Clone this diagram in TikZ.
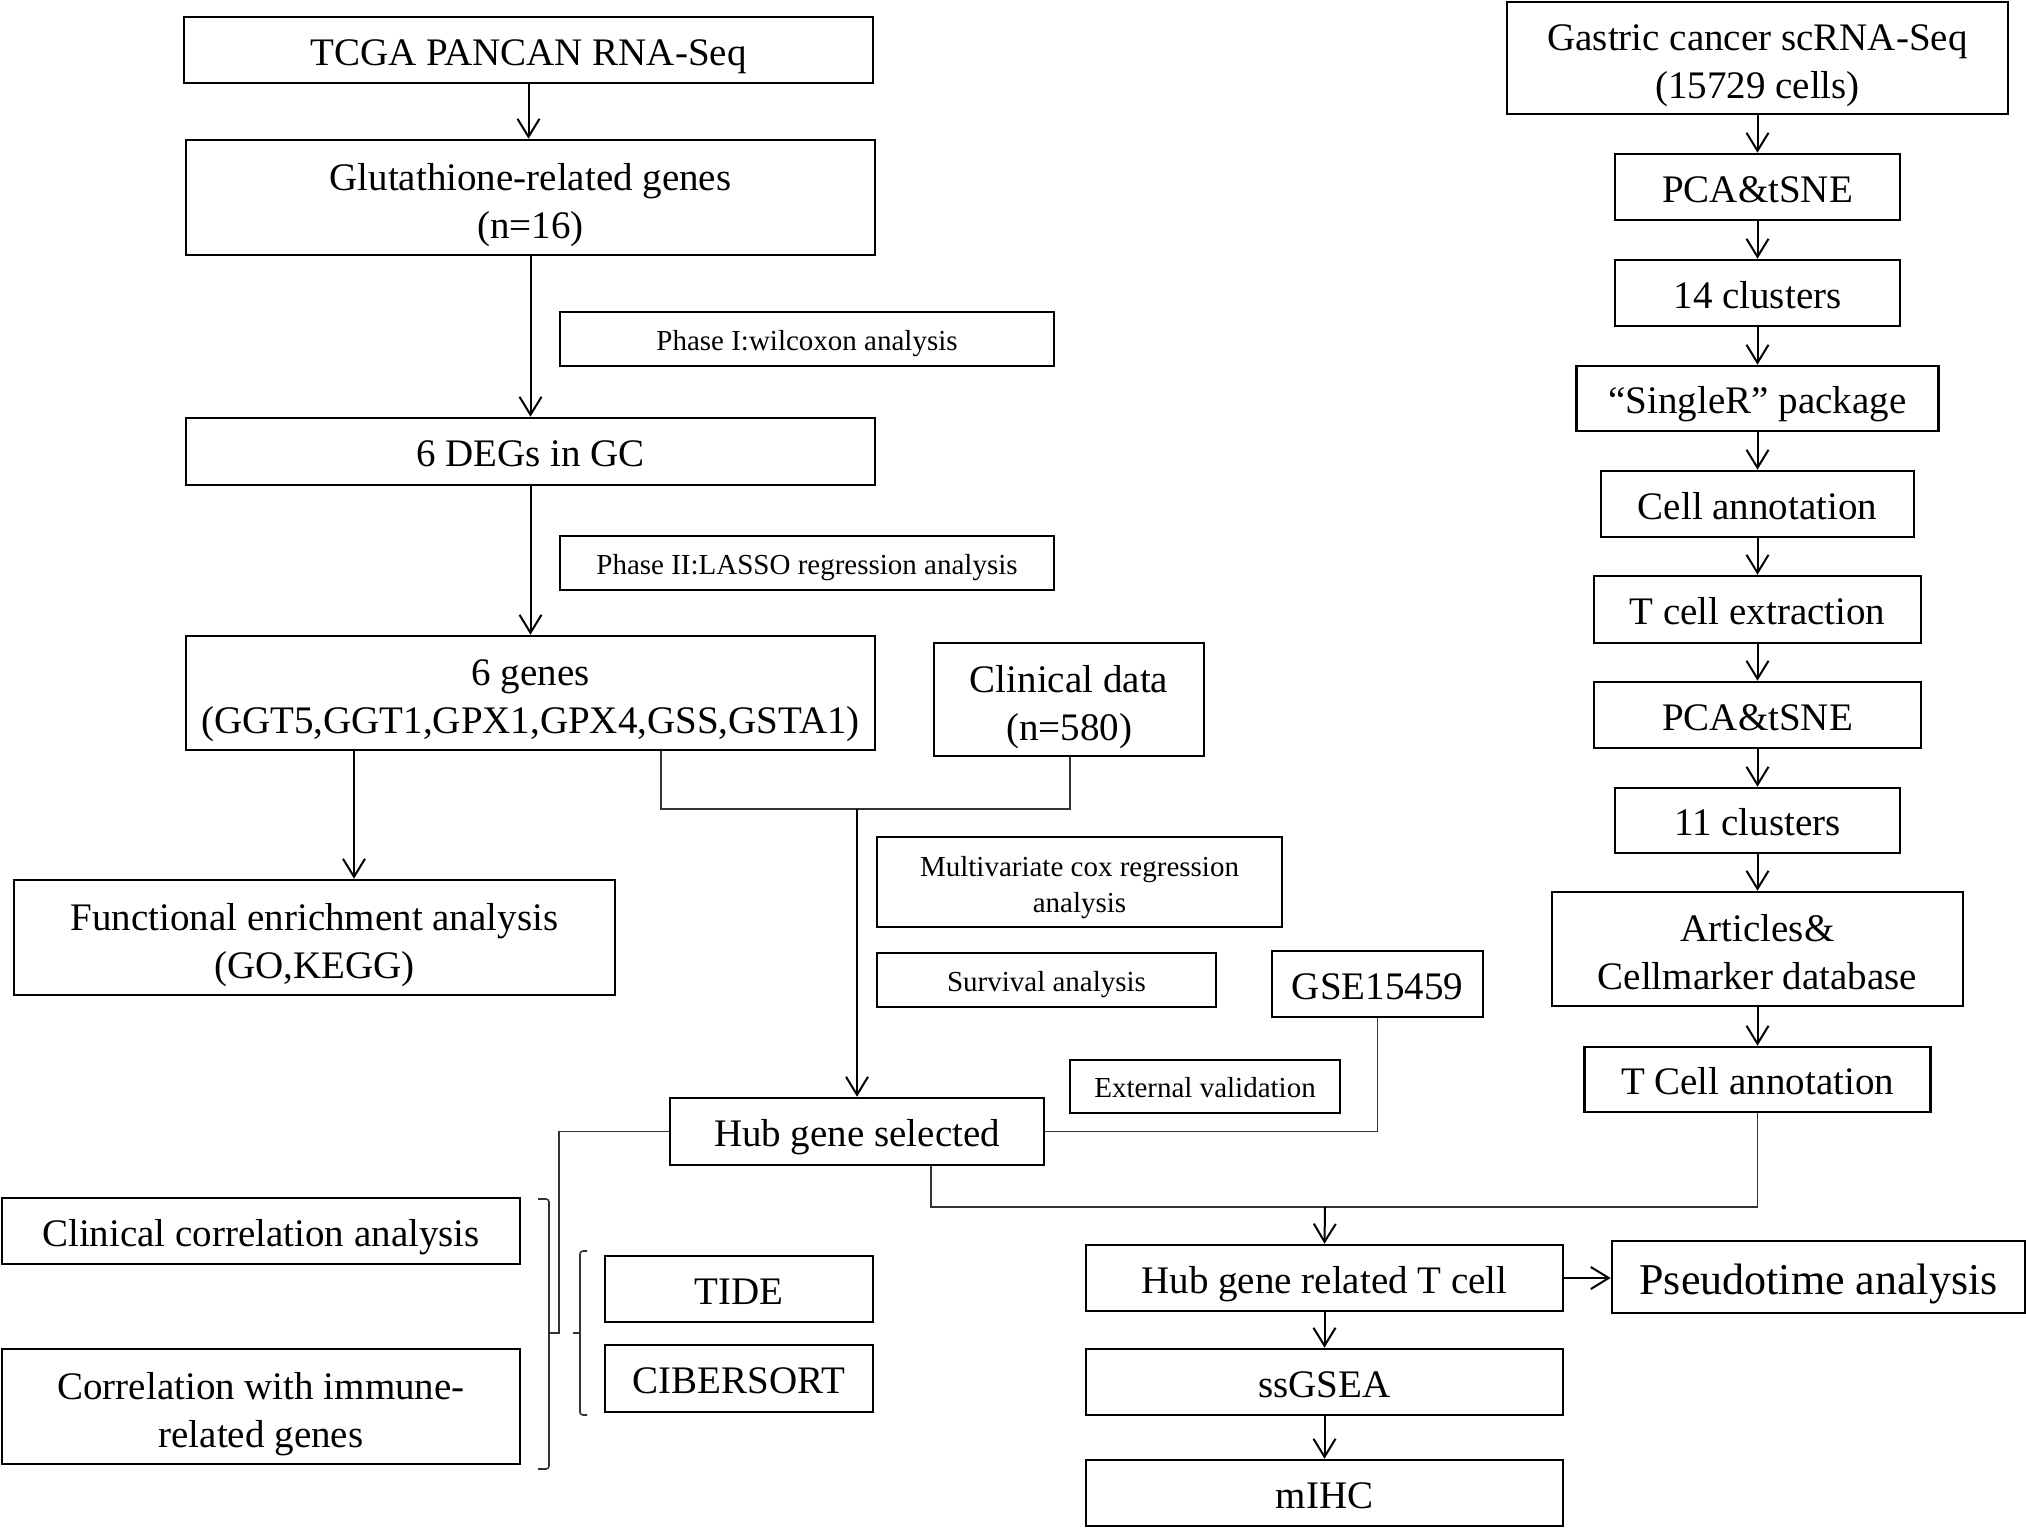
\documentclass[tikz,border=0pt]{standalone}
\usepackage{fontspec}
\setmainfont{Liberation Serif}
\usetikzlibrary{arrows.meta}
\begin{document}
\begin{tikzpicture}[x=1pt,y=-1pt,
  vfix/.style={execute at begin node={\rule{0pt}{1em}},
    execute at end node={\rule[-0.22em]{0pt}{0.22em}}},
  box/.style={draw=black, line width=2.6pt, inner sep=0pt, align=center,
    font=\fontsize{39}{48}\selectfont, vfix},
  sbox/.style={draw=black, line width=2.4pt, inner sep=0pt, align=center,
    font=\fontsize{29}{36}\selectfont, vfix},
  two/.style={text height=81pt, text depth=0pt},
  stwo/.style={text height=60pt, text depth=0pt},
  conn/.style={draw=black!80, line width=1.7pt},
  arr/.style={draw=black, line width=2pt, -{Straight Barb[length=18pt,width=22pt,line width=2pt]}},
  brk/.style={draw=black!80, line width=1.6pt, rounded corners=3pt},
  sz/.style 2 args={minimum width=#1pt, minimum height=#2pt}]
\useasboundingbox[fill=white] (0,0) rectangle (2026,1528);

% left column
\node[box, sz={689}{66}] (tcga) at (528.5,50) {TCGA PANCAN RNA-Seq};
\node[box, two, sz={689}{115}] (glut) at (530.5,197.5) {Glutathione-related genes\\(n=16)};
\node[sbox, sz={494}{54}] (ph1) at (807,339) {Phase I:wilcoxon analysis};
\node[box, sz={689}{67}] (degs) at (530.5,451.5) {6 DEGs in GC};
\node[sbox, sz={494}{54}] (ph2) at (807,563) {Phase II:LASSO regression analysis};
\node[box, two, sz={689}{114}] (genes) at (530.5,693) {6 genes\\(GGT5,GGT1,GPX1,GPX4,GSS,GSTA1)};
\node[box, two, sz={270}{113}] (clin) at (1069,699.5) {Clinical data\\(n=580)};
\node[box, two, sz={601}{115}] (func) at (314.5,937.5) {Functional enrichment analysis\\(GO,KEGG)};
\node[sbox, stwo, sz={405}{90}] (multi) at (1079.5,882) {Multivariate cox regression\\analysis};
\node[sbox, sz={339}{54}] (surv) at (1046.5,980) {Survival analysis};
\node[box, sz={211}{66}] (gse) at (1377.5,984) {GSE15459};
\node[sbox, sz={270}{53}] (ext) at (1205,1086.5) {External validation};
\node[box, sz={374}{67}] (hubsel) at (857,1131.5) {Hub gene selected};
\node[box, sz={518}{66}] (clincorr) at (261,1231) {Clinical correlation analysis};
\node[box, two, sz={518}{115}] (corrimm) at (261,1406.5) {Correlation with immune-\\related genes};
\node[box, sz={268}{66}] (tide) at (739,1289) {TIDE};
\node[box, sz={268}{67}] (cib) at (739,1378.5) {CIBERSORT};

% right column
\node[box, two, sz={501}{112}] (gastric) at (1757.5,58) {Gastric cancer scRNA-Seq\\(15729 cells)};
\node[box, sz={285}{66}] (pca1) at (1757.5,187) {PCA\&tSNE};
\node[box, sz={285}{66}] (cl14) at (1757.5,293) {14 clusters};
\node[box, sz={362}{65}] (singler) at (1757.5,398.5) {“SingleR” package};
\node[box, sz={313}{66}] (cellann) at (1757.5,504) {Cell annotation};
\node[box, sz={327}{67}] (tcext) at (1757.5,609.5) {T cell extraction};
\node[box, sz={327}{66}] (pca2) at (1757.5,715) {PCA\&tSNE};
\node[box, sz={285}{65}] (cl11) at (1757.5,820.5) {11 clusters};
\node[box, two, sz={411}{114}] (articles) at (1757.5,949) {Articles\&\\Cellmarker database};
\node[box, sz={346}{65}] (tcann) at (1757.5,1079.5) {T Cell annotation};
\node[box, sz={477}{66}] (hubt) at (1324.5,1278) {Hub gene related T cell};
\node[box, sz={413}{72}, font=\fontsize{44}{52}\selectfont] (pseudo) at (1818.5,1277) {Pseudotime analysis};
\node[box, sz={477}{66}] (ssgsea) at (1324.5,1382) {ssGSEA};
\node[box, sz={477}{66}] (mihc) at (1324.5,1493) {mIHC};

% junction coordinates
\coordinate (jA) at (661,809);
\coordinate (jB) at (1070,809);
\coordinate (jC) at (857,809);
\coordinate (fx) at (354,0);
\coordinate (b1) at (559,1333);
\coordinate (bt1) at (549,1333);
\coordinate (k1) at (931,1207);
\coordinate (k2) at (1325,1207);

% left connectors
\draw[arr] (tcga.south) -- (tcga.south |- glut.north);
\draw[arr] (glut.south) -- (degs.north);
\draw[arr] (degs.south) -- (genes.north);
\draw[arr] (fx |- genes.south) -- (fx |- func.north);
\draw[conn] (jA |- genes.south) -- (jA) -- (jB) -- (jB |- clin.south);
\draw[arr] (jC) -- (hubsel.north);
\draw[conn] (gse.south) -- (gse.south |- hubsel.east) -- (hubsel.east);
\draw[conn] (hubsel.west) -- (hubsel.west -| b1) -- (b1) -- (bt1);
\draw[conn] (k1 |- hubsel.south) -- (k1) -- (k1 -| tcann.south) -- (tcann.south);
\draw[arr] (k2) -- (hubt.north);

% brackets
\draw[brk] (538,1199) -- (549,1199) -- (549,1469) -- (538,1469);
\draw[brk] (587,1251) -- (580,1251) -- (580,1415) -- (587,1415);
\draw[brk] (580,1333) -- (573,1333);

% right connectors
\draw[arr] (gastric.south) -- (pca1.north);
\draw[arr] (pca1.south) -- (cl14.north);
\draw[arr] (cl14.south) -- (singler.north);
\draw[arr] (singler.south) -- (cellann.north);
\draw[arr] (cellann.south) -- (tcext.north);
\draw[arr] (tcext.south) -- (pca2.north);
\draw[arr] (pca2.south) -- (cl11.north);
\draw[arr] (cl11.south) -- (articles.north);
\draw[arr] (articles.south) -- (tcann.north);
\draw[arr] (hubt.east) -- (hubt.east -| pseudo.west);
\draw[arr] (hubt.south) -- (ssgsea.north);
\draw[arr] (ssgsea.south) -- (mihc.north);
\end{tikzpicture}
\end{document}
